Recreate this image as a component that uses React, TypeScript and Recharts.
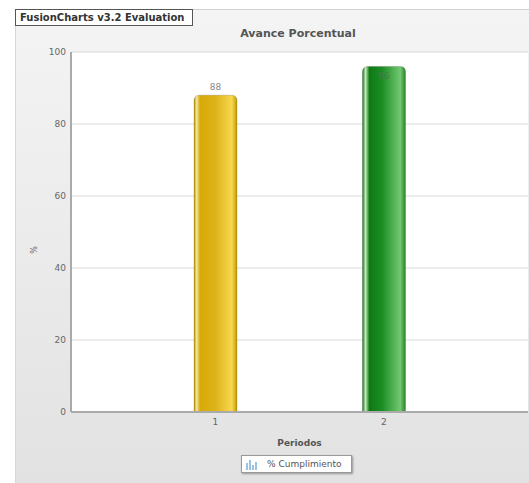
import React from 'react';
import {
    BarChart, Bar, XAxis, YAxis, CartesianGrid, Legend, LabelList, Cell
} from 'recharts';

// Datos del gráfico
const periodos = ['1', '2'];
const cumplimiento = [88, 96];
const yTicks = [0, 20, 40, 60, 80, 100];
const serieNombre = '% Cumplimiento';

const data = periodos.map((p, i) => ({ periodo: p, valor: cumplimiento[i] }));

const barFills = ['url(#gradOro)', 'url(#gradVerde)'];
const FONT = '"DejaVu Sans", Verdana, sans-serif';

// Etiqueta de valor: arriba de la barra, o dentro si no hay espacio
const ValueLabel = (props: any) => {
    const { x, y, width, value } = props;
    const inside = y < 72;
    return (
        <text
            x={x + width / 2}
            y={inside ? y + 13 : y - 5}
            textAnchor="middle"
            fontSize={9}
            fontFamily={FONT}
            fill={inside ? '#4a7a4a' : '#888'}
        >
            {value}
        </text>
    );
};

const LegendBox = () => (
    <div style={{
        width: 111, height: 18, background: '#fff', border: '1px solid #999',
        boxShadow: '1px 1px 2px rgba(0,0,0,0.35)', display: 'flex', alignItems: 'center',
        fontFamily: FONT, fontSize: 9, color: '#555', boxSizing: 'border-box', whiteSpace: 'nowrap'
    }}>
        <svg width={12} height={12} style={{ marginLeft: 3, flexShrink: 0 }}>
            <rect x={1} y={5} width={2} height={7} fill="#9cc3e6" />
            <rect x={4} y={2} width={2} height={10} fill="#9cc3e6" />
            <rect x={7} y={7} width={2} height={5} fill="#9cc3e6" />
            <rect x={10} y={4} width={2} height={8} fill="#9cc3e6" />
        </svg>
        <span style={{ marginLeft: 10 }}>{serieNombre}</span>
    </div>
);

export default function App() {
    return (
        <div style={{ position: 'absolute', left: 0, top: 0, width: 529, height: 483, background: '#fff', overflow: 'hidden' }}>
            {/* fondo gris */}
            <div style={{
                position: 'absolute', left: 15, top: 9, width: 514, height: 474,
                background: 'linear-gradient(#f4f4f4, #e2e2e2)',
                borderTop: '1px solid #d0d0d0', borderLeft: '1px solid #d6d6d6'
            }} />
            <div style={{
                position: 'absolute', left: 0, top: 27, width: 596, textAlign: 'center',
                fontFamily: FONT, fontWeight: 'bold', fontSize: 11, color: '#555'
            }}>
                Avance Porcentual
            </div>
            <div style={{ position: 'absolute', left: 0, top: 0 }}>
                <BarChart
                    width={529}
                    height={483}
                    data={data}
                    margin={{ top: 52, right: 1, bottom: 41, left: 15 }}
                >
                    <defs>
                        <linearGradient id="gradOro" x1="0" y1="0" x2="1" y2="0">
                            <stop offset="0%" stopColor="#b89200" />
                            <stop offset="6%" stopColor="#f7e69a" />
                            <stop offset="14%" stopColor="#d6aa08" />
                            <stop offset="50%" stopColor="#ddb31a" />
                            <stop offset="88%" stopColor="#f8d750" />
                            <stop offset="100%" stopColor="#c29a00" />
                        </linearGradient>
                        <linearGradient id="gradVerde" x1="0" y1="0" x2="1" y2="0">
                            <stop offset="0%" stopColor="#1b6e1b" />
                            <stop offset="7%" stopColor="#c4ecbc" />
                            <stop offset="16%" stopColor="#0f7a14" />
                            <stop offset="45%" stopColor="#1c8c24" />
                            <stop offset="88%" stopColor="#72c872" />
                            <stop offset="100%" stopColor="#2a822a" />
                        </linearGradient>
                    </defs>
                    <CartesianGrid
                        vertical={false}
                        stroke="#d8d8d8"
                        fill="#ffffff"
                        fillOpacity={1}
                    />
                    <XAxis
                        dataKey="periodo"
                        padding={{ left: 60, right: 60 }}
                        height={30}
                        tickLine={false}
                        tickSize={0}
                        tickMargin={7}
                        axisLine={{ stroke: '#aaa', strokeWidth: 2 }}
                        tick={{ fill: '#666', fontSize: 9, fontFamily: FONT }}
                        label={(props: any) => {
                            const vb = props.viewBox;
                            return (
                                <text x={vb.x + vb.width / 2} y={vb.y + 34} textAnchor="middle"
                                    fontSize={9} fontWeight="bold" fontFamily={FONT} fill="#555">
                                    Periodos
                                </text>
                            );
                        }}
                    />
                    <YAxis
                        width={56}
                        domain={[0, 100]}
                        ticks={yTicks}
                        tickLine={false}
                        tickSize={0}
                        tickMargin={5}
                        axisLine={{ stroke: '#aaa', strokeWidth: 2 }}
                        tick={{ fill: '#666', fontSize: 9, fontFamily: FONT }}
                        label={(props: any) => {
                            const vb = props.viewBox;
                            const cx = vb.x + 22;
                            const cy = vb.y + vb.height / 2 + 18;
                            return (
                                <text x={cx} y={cy} textAnchor="middle" fontSize={8}
                                    fontFamily={FONT} fill="#666" transform={`rotate(-90 ${cx} ${cy})`}>
                                    %
                                </text>
                            );
                        }}
                    />
                    <YAxis
                        yAxisId="der"
                        orientation="right"
                        width={0}
                        domain={[0, 100]}
                        tick={false}
                        tickLine={false}
                        axisLine={{ stroke: '#cfcfcf', strokeWidth: 1 }}
                    />
                    <Legend
                        layout="horizontal"
                        verticalAlign="middle"
                        align="center"
                        content={() => <LegendBox />}
                        wrapperStyle={{ position: 'absolute', left: 241, top: 455, width: 112, height: 19 }}
                    />
                    <Bar
                        dataKey="valor"
                        name={serieNombre}
                        barSize={43}
                        radius={[5, 5, 0, 0]}
                        stroke="rgba(0,0,0,0.15)"
                        isAnimationActive={false}
                    >
                        {data.map((d, i) => (
                            <Cell key={`c-${i}`} fill={barFills[i]} />
                        ))}
                        <LabelList dataKey="valor" content={<ValueLabel />} />
                    </Bar>
                </BarChart>
            </div>
            {/* marca de agua */}
            <div style={{
                position: 'absolute', left: 15, top: 9, width: 178, height: 17,
                background: '#fff', border: '1px solid #555', boxSizing: 'border-box',
                fontFamily: FONT, fontWeight: 'bold', fontSize: 10, color: '#333',
                lineHeight: '15px', paddingLeft: 4, whiteSpace: 'nowrap', overflow: 'hidden'
            }}>
                FusionCharts v3.2 Evaluation
            </div>
        </div>
    );
}
